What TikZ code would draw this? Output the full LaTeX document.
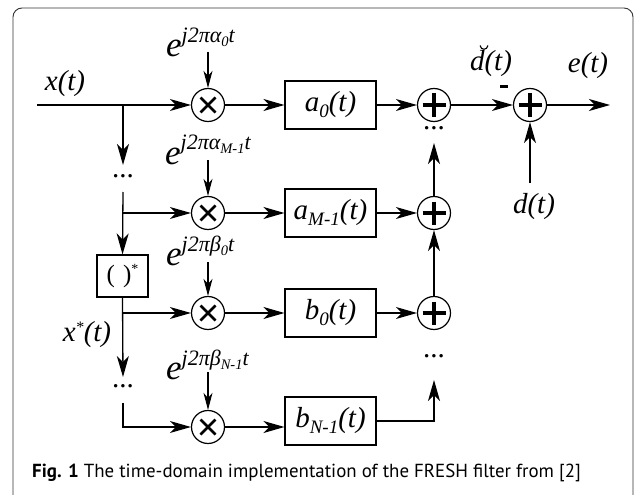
\documentclass[tikz,border=0pt]{standalone}
\usepackage{fontspec}
\setmainfont{Liberation Serif}
\newfontfamily\capfont{PT Sans}
\usetikzlibrary{arrows.meta}

% label fonts
\newcommand{\lblfont}{\fontsize{29}{29}\selectfont\itshape}
\newcommand{\lo}[1]{\raisebox{-6pt}{\fontsize{19}{19}\selectfont\itshape #1}}
% e^{j 2 pi <greek>_<index> t}
\newcommand{\expo}[2]{{\fontsize{35}{35}\selectfont\itshape e}\raisebox{14pt}{\fontsize{22}{22}\selectfont\itshape j2π#1\raisebox{-4pt}{\fontsize{14.5}{14.5}\selectfont #2}t}}

\begin{document}
\begin{tikzpicture}[x=1pt, y=-1pt,
  wire/.style={line width=1.3pt},
  arr/.style={wire, -{Stealth[length=21pt,width=12pt,inset=6pt]}},
  earr/.style={line width=1.1pt, -{Stealth[length=17pt,width=9pt,inset=5pt]}},
  blk/.style={draw, line width=1.1pt, minimum width=91pt, minimum height=48pt, inner sep=0pt, font=\lblfont},
  junc/.style={circle, draw, line width=1.2pt, minimum size=33pt, inner sep=0pt},
  mult/.style={junc, path picture={
      \draw[line width=2.7pt] ([shift={(-7.5,-7.5)}]path picture bounding box.center) -- ++(15,15);
      \draw[line width=2.7pt] ([shift={(-7.5,7.5)}]path picture bounding box.center) -- ++(15,-15);}},
  adder/.style={junc, path picture={
      \draw[line width=3.2pt] ([shift={(-11.5,0)}]path picture bounding box.center) -- ++(23,0);
      \draw[line width=3.2pt] ([shift={(0,-11.5)}]path picture bounding box.center) -- ++(0,23);}},
  lbl/.style={inner sep=0pt, font=\lblfont},
  dots/.style={inner sep=0pt, font=\fontsize{29}{29}\selectfont}
]
\useasboundingbox (0,0) rectangle (635,495);
\clip (0,0) rectangle (635,495);

% outer frame
\draw[black!80, line width=0.9pt, rounded corners=9pt] (13,8) rectangle (633,530);

% multipliers
\node[mult] (m1) at (208,105) {};
\node[mult] (m2) at (208,213) {};
\node[mult] (m3) at (208,313) {};
\node[mult] (m4) at (208,427) {};

% filter blocks
\node[blk] (a0) at (330.5,105) {a\lo{0}(t)};
\node[blk] (a1) at (330.5,213) {a\lo{M-1}(t)};
\node[blk] (b0) at (330.5,313) {b\lo{0}(t)};
\node[blk] (b1) at (330.5,421) {b\lo{N-1}(t)};

% summing junctions
\node[adder] (s1) at (434,105) {};
\node[adder] (s2) at (434,213) {};
\node[adder] (s3) at (434,313) {};
\node[adder] (fs) at (530,105) {};

% conjugation block
\node[draw, line width=1.1pt, minimum width=51pt, minimum height=42pt, inner sep=0pt] (cj) at (122.5,276)
  {\fontsize{25}{25}\selectfont(\,\,)\raisebox{9pt}{\fontsize{14}{14}\selectfont *}};

% modulating exponentials
\node[anchor=base west, inner sep=0pt] (e1) at (166,57) {\expo{α}{0}};
\node[anchor=base west, inner sep=0pt] (e2) at (165,164) {\expo{α}{M-1}};
\node[anchor=base west, inner sep=0pt] (e3) at (166,265) {\expo{β}{0}};
\node[anchor=base west, inner sep=0pt] (e4) at (166,379) {\expo{β}{N-1}};
\coordinate (t1) at (208,52);
\coordinate (t2) at (208,160);
\coordinate (t3) at (208,262);
\coordinate (t4) at (208,372);
\draw[earr] (t1) -- (m1);
\draw[earr] (t2) -- (m2);
\draw[earr] (t3) -- (m3);
\draw[earr] (t4) -- (m4);

% signal labels
\node[lbl] (xl) at (65,84) {x(t)};
\node[lbl] (xs) at (87,335) {x\raisebox{9pt}{\fontsize{16}{16}\selectfont *}(t)};
\node[lbl, anchor=base] (dh) at (491,71) {d(t)};
\draw[line width=1.1pt] (480,45.5) .. controls (481,50.5) and (487,50.5) .. (488,45.5); % breve over d
\node[lbl, anchor=base] (el) at (588,73) {e(t)};
\node[lbl] (dl) at (534,207) {d(t)};
\fill (500,85.5) rectangle (508,88.5); % minus sign at the summing input

% ellipses
\node[dots] (p1) at (123,176) {...};
\node[dots] (p2) at (123,386) {...};
\node[dots] (p3) at (434,128) {...};
\node[dots] (p4) at (434,356) {...};

% input distribution
\coordinate (xin) at (37,105);
\coordinate (br1) at (123,105);
\coordinate (v1) at (123,165);
\coordinate (v2) at (123,192);
\coordinate (v3) at (123,377);
\coordinate (v4) at (123,403);
\draw[arr] (xin) -- (m1);
\draw[arr] (br1) -- (v1);
\draw[arr] (v2) -- (cj.north);
\draw[arr] (v2 |- m2) -- (m2);
\draw[arr] (cj.south) -- (v3);
\draw[arr] (cj.south |- m3) -- (m3);
\draw[arr] (v4) |- (m4);

% filter branches
\draw[arr] (m1) -- (a0);
\draw[arr] (m2) -- (a1);
\draw[arr] (m3) -- (b0);
\draw[arr] (m4.east) -- (m4.east -| b1.west);
\draw[arr] (a0) -- (s1);
\draw[arr] (a1) -- (s2);
\draw[arr] (b0) -- (s3);

% summation chain
\coordinate (v5) at (434,143);
\coordinate (v6) at (434,380);
\draw[arr] (s3) -- (s2);
\draw[arr] (s2) -- (v5);
\draw[arr] (b1.east) -| (v6);

% error output
\coordinate (dsrc) at (530,183);
\coordinate (out) at (610,105);
\draw[arr] (s1) -- (fs);
\draw[arr] (dsrc) -- (fs);
\draw[arr] (fs) -- (out);

% caption
\node[anchor=base west, inner sep=0pt, font=\capfont\fontsize{18.9}{18.9}\selectfont] (cap) at (32,477)
  {\textbf{Fig. 1} The time-domain implementation of the FRESH filter from [2]};
\end{tikzpicture}
\end{document}
